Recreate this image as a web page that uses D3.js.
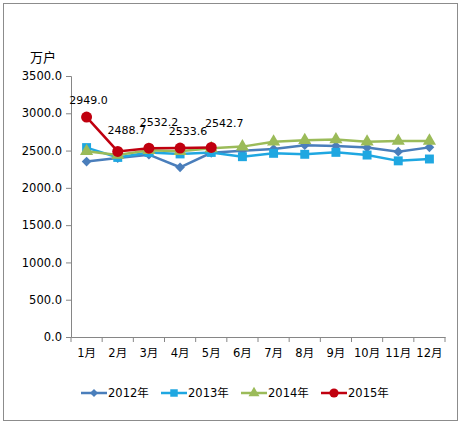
<!DOCTYPE html>
<html>
<head>
<meta charset="utf-8">
<script src="https://cdn.jsdelivr.net/npm/d3@7"></script>
<style>
  body { margin: 0; background: #fff; }
  text { font-family: "DejaVu Sans", "Noto Sans CJK SC", sans-serif; fill: #000; }
</style>
</head>
<body>
<div class="canvas"></div>
<script>
// data
const months = ['1月', '2月', '3月', '4月', '5月', '6月', '7月', '8月', '9月', '10月', '11月', '12月'];
const yTicks = [0, 500, 1000, 1500, 2000, 2500, 3000, 3500];
const v2012 = [2352, 2400, 2445, 2276, 2470, 2498, 2521, 2572, 2560, 2540, 2485, 2543];
const v2013 = [2540, 2408, 2475, 2455, 2475, 2418, 2463, 2450, 2476, 2440, 2362, 2387];
const v2014 = [2490, 2440, 2505, 2490, 2530, 2553, 2618, 2638, 2648, 2618, 2628, 2630];
const v2015 = [2949.0, 2488.7, 2532.2, 2533.6, 2542.7];

const series = [
    { name: '2012年', values: v2012, color: '#4a7ebb', shape: d3.symbolDiamond2, size: 60 },
    { name: '2013年', values: v2013, color: '#1fa7e1', shape: d3.symbolSquare, size: 80 },
    { name: '2014年', values: v2014, color: '#9bbb59', shape: d3.symbolTriangle, size: 75 },
    { name: '2015年', values: v2015, color: '#c0000f', shape: d3.symbolCircle, size: 95 }
];

// label nudges for the 2015 values (layout only)
const labelDx = [2, 9, 10, 8, 13];
const labelDy = [-13, -17, -22, -13, -20];

const svg = d3.select('.canvas')
    .append('svg')
    .attr('width', 460)
    .attr('height', 426);

// outer frame
svg.append('rect')
    .attr('x', 3.5).attr('y', 3.5)
    .attr('width', 454).attr('height', 417)
    .attr('fill', 'none')
    .attr('stroke', '#8c8c8c')
    .attr('stroke-width', 1);

const margin = { top: 76, left: 71 };
const graphWidth = 374;
const graphHeight = 261;

const graph = svg.append('g')
    .attr('transform', `translate(${margin.left}, ${margin.top})`);

const xScale = d3.scaleBand()
    .domain(months)
    .range([0, graphWidth]);

const yScale = d3.scaleLinear()
    .domain([0, 3500])
    .range([graphHeight, 0]);

// y axis
const yAxis = d3.axisLeft(yScale)
    .tickValues(yTicks)
    .tickSize(5)
    .tickPadding(4)
    .tickFormat(d3.format('.1f'));

const yG = graph.append('g').call(yAxis);
yG.select('.domain').attr('stroke', '#868686');
yG.selectAll('.tick line').attr('stroke', '#868686');
yG.selectAll('text').attr('font-size', '11.5px');

// x axis
const xAxis = d3.axisBottom(xScale)
    .tickSize(0)
    .tickPadding(12);

const xG = graph.append('g')
    .attr('transform', `translate(0, ${graphHeight})`)
    .call(xAxis);
xG.select('.domain').attr('stroke', '#868686');
xG.selectAll('text').attr('font-size', '11.5px');

// x tick marks between categories
graph.append('g')
    .selectAll('line')
    .data(months.concat(['end']))
    .enter()
    .append('line')
    .attr('x1', (d, i) => i * xScale.bandwidth())
    .attr('x2', (d, i) => i * xScale.bandwidth())
    .attr('y1', graphHeight)
    .attr('y2', graphHeight + 5)
    .attr('stroke', '#868686');

// unit label
svg.append('text')
    .attr('x', 43).attr('y', 62)
    .attr('text-anchor', 'middle')
    .attr('font-size', '13px')
    .text('万户');

const cx = (d, i) => xScale(months[i]) + xScale.bandwidth() / 2;

const line = d3.line()
    .x(cx)
    .y(d => yScale(d));

series.forEach(s => {
    const g = graph.append('g');
    g.append('path')
        .datum(s.values)
        .attr('d', line)
        .attr('fill', 'none')
        .attr('stroke', s.color)
        .attr('stroke-width', 2.5);
    g.selectAll('path.mark')
        .data(s.values)
        .enter()
        .append('path')
        .attr('class', 'mark')
        .attr('d', d3.symbol().type(s.shape).size(s.size))
        .attr('transform', (d, i) => `translate(${cx(d, i)}, ${yScale(d)})`)
        .attr('fill', s.color);
});

// data labels for 2015
graph.append('g')
    .selectAll('text')
    .data(v2015)
    .enter()
    .append('text')
    .attr('x', (d, i) => cx(d, i) + labelDx[i])
    .attr('y', (d, i) => yScale(d) + labelDy[i])
    .attr('text-anchor', 'middle')
    .attr('font-size', '11px')
    .text(d => d3.format('.1f')(d));

// legend
const legend = svg.append('g')
    .attr('transform', 'translate(81, 393)');

const items = legend.selectAll('g')
    .data(series)
    .enter()
    .append('g')
    .attr('transform', (d, i) => `translate(${i * 80}, 0)`);

items.append('line')
    .attr('x1', 0).attr('x2', 26)
    .attr('stroke', d => d.color)
    .attr('stroke-width', 2.5);

items.append('path')
    .attr('d', d => d3.symbol().type(d.shape).size(d.size * 0.7)())
    .attr('transform', 'translate(13, 0)')
    .attr('fill', d => d.color);

items.append('text')
    .attr('x', 27)
    .attr('y', 4)
    .attr('font-size', '11.5px')
    .text(d => d.name);
</script>
</body>
</html>
